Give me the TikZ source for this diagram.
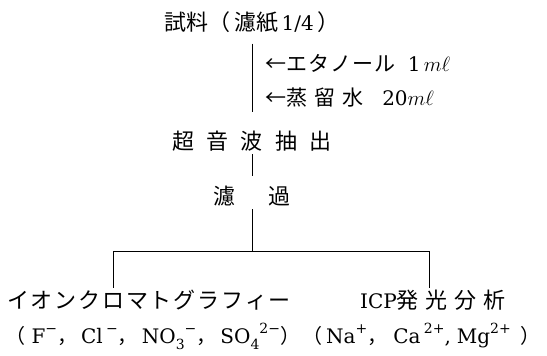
\documentclass[tikz,border=0pt]{standalone}
\usepackage{fontspec}
\setmainfont{DejaVu Serif}
\newfontfamily\cjk{Noto Sans CJK JP}
\newcommand\fsz{\fontsize{20}{24}\selectfont}
\newcommand\supx[1]{\raisebox{0.5em}{\fontsize{14}{14}\selectfont #1}}
\newcommand\subx[1]{\raisebox{-0.3em}{\fontsize{14}{14}\selectfont #1}}
\newcommand\mlx{$m\ell$}
\def\mygobble#1{}
\def\spaced#1#2{\def\spamt{#1}\spacedA#2\relax}
\def\spacedA#1#2{#1\ifx\relax#2\expandafter\mygobble\else\kern\spamt\relax\expandafter\spacedA\fi#2}
\tikzset{
  txt/.style={inner sep=0pt, font=\fsz},
  cj/.style={inner sep=0pt, font=\fontsize{22}{26}\selectfont\cjk},
  conn/.style={line width=1pt, draw=black},
}
\begin{document}
\begin{tikzpicture}[x=1pt,y=-1pt]
\useasboundingbox (0,0) rectangle (547,356);
\node[txt] (title) at (252,22) {{\cjk\fontsize{22}{26}\selectfont 試料（\,濾紙}\,1/4\,{\cjk\fontsize{22}{26}\selectfont ）}};
\node[txt, anchor=west] (lab1) at (265,63) {{\cjk\fontsize{21}{26}\selectfont ←\spaced{1pt}{エタノール}}\ \ 1\,\mlx};
\node[txt, anchor=west] (lab2) at (265,98) {{\cjk\fontsize{21}{26}\selectfont ←\spaced{7pt}{蒸留水}}\ \ \ 20\mlx};
\node[cj] (ultra) at (252,141) {\spaced{12.5pt}{超音波抽出}};
\node[cj] (filt) at (252,196) {\spaced{34pt}{濾過}};
\coordinate (jn) at (252,251);
\coordinate (jl) at (113,251);
\coordinate (jr) at (429,251);
\node[cj] (ion) at (149,300) {\spaced{1.8pt}{イオンクロマトグラフィー}};
\node[txt, anchor=west] (icp) at (360,300) {ICP{\cjk\fontsize{22}{26}\selectfont\spaced{7pt}{発光分析}}};
\node[txt, anchor=west] (anions) at (5,336) {{\cjk （}\ F\supx{−}{\cjk ，}\hspace{4pt}Cl\,\supx{−}{\cjk ，}\hspace{4pt}NO\subx{3}\supx{−}{\cjk ，}\hspace{4pt}SO\subx{4}\supx{2−}{\cjk ）}};
\node[txt, anchor=east] (cations) at (541,336) {{\cjk （}\hspace{4pt}Na\supx{+}{\cjk ，}\hspace{6pt}Ca\,\supx{2+},\hspace{6pt}Mg\supx{2+}\hspace{10pt}{\cjk ）}};
\draw[conn, shorten <=11pt, shorten >=19pt] (title.south -| ultra.north) -- (ultra.north);
\draw[conn, shorten <=3pt, shorten >=10pt] (ultra.south) -- (filt.north -| ultra.south);
\draw[conn, shorten <=3pt] (filt.south -| jn) -- (jn);
\draw[conn] (jl) -- (jr);
\draw[conn, shorten >=2pt] (jl) -- (ion.north -| jl);
\draw[conn, shorten >=2pt] (jr) -- (icp.north -| jr);
\end{tikzpicture}
\end{document}
